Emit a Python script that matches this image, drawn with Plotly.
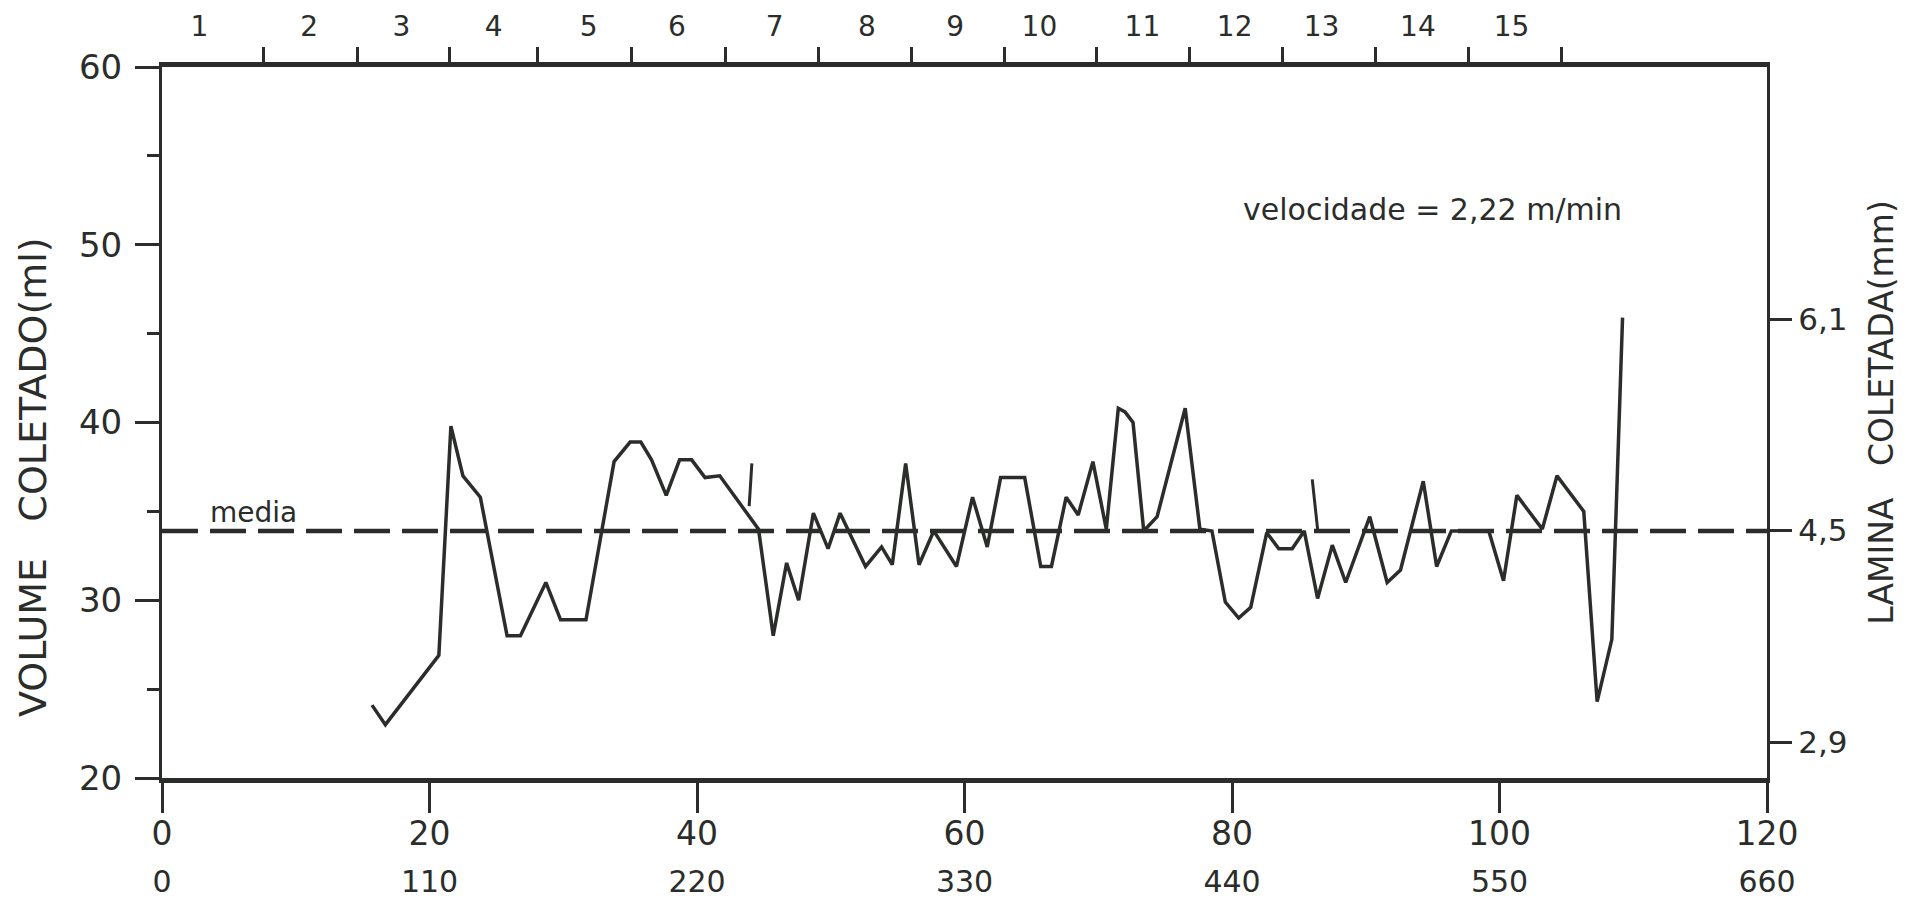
import plotly.graph_objects as go

# ---------------- data ----------------
distance_x = [15.7, 16.7, 20.7, 21.6, 22.5, 23.8, 25.8, 26.8, 28.7, 29.8,
              31.7, 33.8, 35.0, 35.8, 36.6, 37.7, 38.7, 39.6, 40.6, 41.7,
              44.6, 45.7, 46.7, 47.6, 48.7, 49.8, 50.7, 52.6, 53.8, 54.6,
              55.6, 56.6, 57.7, 59.4, 60.6, 61.7, 62.7, 64.5, 65.7, 66.5,
              67.6, 68.5, 69.6, 70.6, 71.5, 72.0, 72.6, 73.4, 74.4, 76.5,
              77.6, 78.5, 79.5, 80.5, 81.4, 82.6, 83.5, 84.5, 85.4, 86.4,
              87.5, 88.5, 90.3, 91.6, 92.6, 94.3, 95.3, 96.4, 99.2, 100.3,
              101.3, 103.2, 104.3, 106.3, 107.3, 108.4, 109.2]
volume_ml = [24.1, 23.0, 26.9, 39.8, 37.0, 35.8, 28.0, 28.0, 31.0, 28.9,
             28.9, 37.8, 38.9, 38.9, 37.9, 35.9, 37.9, 37.9, 36.9, 37.0,
             34.0, 28.0, 32.1, 30.0, 34.9, 32.9, 34.9, 31.9, 33.0, 32.0,
             37.7, 32.0, 33.9, 31.9, 35.8, 33.0, 36.9, 36.9, 31.9, 31.9,
             35.8, 34.8, 37.8, 34.0, 40.8, 40.6, 40.0, 33.9, 34.7, 40.8,
             34.0, 33.9, 29.9, 29.0, 29.6, 33.8, 32.9, 32.9, 33.9, 30.1,
             33.1, 31.0, 34.7, 31.0, 31.7, 36.7, 31.9, 33.9, 33.9, 31.1,
             35.9, 34.0, 37.0, 35.0, 24.3, 27.8, 45.9]

# two short isolated strokes on the drawing
stroke_a_x = [43.9, 44.1]
stroke_a_y = [35.3, 37.7]
stroke_b_x = [86.0, 86.4]
stroke_b_y = [36.8, 34.0]

mean_ml = 33.9

bottom_ticks = [0, 20, 40, 60, 80, 100, 120]
bottom_labels_row1 = ["0", "20", "40", "60", "80", "100", "120"]
bottom_labels_row2 = ["0", "110", "220", "330", "440", "550", "660"]

top_tick_pos = [7.6, 14.6, 21.5, 28.1, 35.1, 42.1, 49.1, 56.0, 63.0, 69.9,
                76.8, 83.8, 90.7, 97.7, 104.6]
top_label_pos = [2.8, 11.0, 17.9, 24.8, 31.9, 38.5, 45.8, 52.7, 59.3, 65.6,
                 73.3, 80.2, 86.7, 93.9, 100.9]
top_labels = [str(i) for i in range(1, 16)]

left_ticks = [20, 30, 40, 50, 60]
left_labels = ["20", "30", "40", "50", "60"]
right_ticks = [2.9, 4.5, 6.1]
right_labels = ["2,9", "4,5", "6,1"]

# ---------------- styling ----------------
INK = "#2a2d2a"
FONT = "DejaVu Sans"
CLEAR = "rgba(0,0,0,0)"

fig = go.Figure()
fig.add_trace(go.Scatter(x=distance_x, y=volume_ml, mode="lines",
                         line=dict(color=INK, width=3.5), showlegend=False,
                         hoverinfo="skip"))
fig.add_trace(go.Scatter(x=stroke_a_x, y=stroke_a_y, mode="lines",
                         line=dict(color=INK, width=3), showlegend=False))
fig.add_trace(go.Scatter(x=stroke_b_x, y=stroke_b_y, mode="lines",
                         line=dict(color=INK, width=3), showlegend=False))
# empty traces so the auxiliary axes are drawn
for xa, ya in [("x2", "y"), ("x3", "y"), ("x4", "y"), ("x", "y2")]:
    fig.add_trace(go.Scatter(x=[None], y=[None], xaxis=xa, yaxis=ya,
                             showlegend=False, hoverinfo="skip"))

fig.add_hline(y=mean_ml, line=dict(color=INK, width=4.5, dash="36px,12px"))

common_x = dict(range=[0, 120], showgrid=False, zeroline=False,
                fixedrange=True, automargin=False)

fig.update_layout(
    width=1892, height=895,
    margin=dict(l=154, r=133, t=59, b=125, autoexpand=False),
    paper_bgcolor="white", plot_bgcolor="white",
    font=dict(family=FONT, color=INK),
    xaxis=dict(**common_x, tickvals=bottom_ticks, ticktext=bottom_labels_row1,
               ticks="outside", ticklen=30, tickwidth=3, tickcolor=INK,
               showline=True, linewidth=5, linecolor=INK,
               ticklabelstandoff=-8,
               tickfont=dict(size=33, family=FONT, color=INK)),
    xaxis4=dict(**common_x, overlaying="x", anchor="y", side="bottom",
                tickvals=bottom_ticks, ticktext=bottom_labels_row2,
                ticks="outside", ticklen=77, tickcolor=CLEAR, showline=False,
                tickfont=dict(size=30, family=FONT, color=INK)),
    xaxis2=dict(**common_x, overlaying="x", anchor="y", side="top",
                tickvals=top_tick_pos, showticklabels=False,
                ticks="outside", ticklen=15, tickwidth=3, tickcolor=INK,
                showline=True, linewidth=5, linecolor=INK),
    xaxis3=dict(**common_x, overlaying="x", anchor="y", side="top",
                tickvals=top_label_pos, ticktext=top_labels,
                ticks="outside", ticklen=13, tickcolor=CLEAR, showline=False,
                ticklabelstandoff=6,
                tickfont=dict(size=28, family=FONT, color=INK)),
    yaxis=dict(range=[20, 60], tickvals=left_ticks, ticktext=left_labels,
               ticks="outside", ticklen=24, tickwidth=3, tickcolor=INK,
               minor=dict(dtick=5, tick0=0, ticks="outside", ticklen=12,
                          tickwidth=3, tickcolor=INK),
               showline=True, linewidth=3, linecolor=INK, showgrid=False,
               zeroline=False, ticklabelstandoff=6, fixedrange=True,
               automargin=False,
               tickfont=dict(size=34, family=FONT, color=INK)),
    yaxis2=dict(range=[2.629, 8.007], overlaying="y", side="right", anchor="x",
                tickvals=right_ticks, ticktext=right_labels,
                ticks="outside", ticklen=22, tickwidth=3, tickcolor=INK,
                showline=True, linewidth=3, linecolor=INK, showgrid=False,
                zeroline=False, fixedrange=True, automargin=False,
                tickfont=dict(size=31, family=FONT, color=INK)),
    annotations=[
        dict(text="VOLUME   COLETADO(ml)", textangle=-90, xref="paper",
             yref="paper", x=-0.0804, y=0.4233, xanchor="center",
             yanchor="middle", showarrow=False,
             font=dict(size=38, family=FONT, color=INK)),
        dict(text="LAMINA   COLETADA(mm)", textangle=-90, xref="paper",
             yref="paper", x=1.0715, y=0.5148, xanchor="center",
             yanchor="middle", showarrow=False,
             font=dict(size=33, family=FONT, color=INK)),
        dict(text="velocidade = 2,22 m/min", xref="paper", yref="paper",
             x=0.7913, y=0.800, xanchor="center", yanchor="middle",
             showarrow=False, font=dict(size=30, family=FONT, color=INK)),
        dict(text="media", xref="paper", yref="paper", x=0.0573, y=0.374,
             xanchor="center", yanchor="middle", showarrow=False,
             font=dict(size=28, family=FONT, color=INK)),
    ],
)

fig.write_html("out.html")
